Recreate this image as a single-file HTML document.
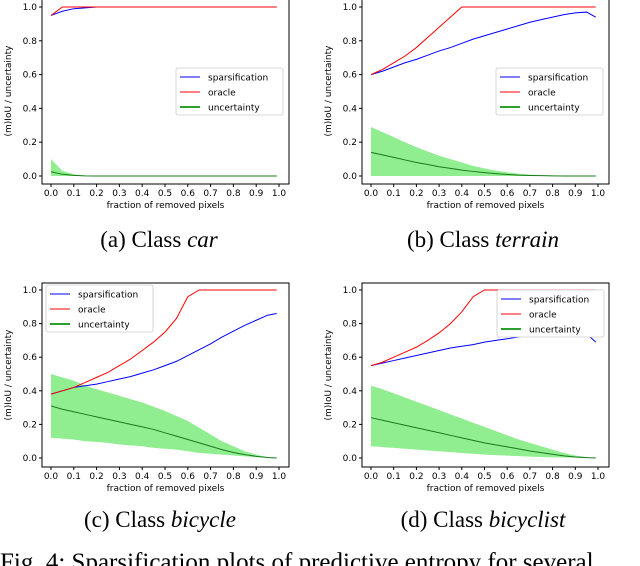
<!DOCTYPE html>
<html><head><meta charset="utf-8"><style>
body{margin:0;background:#fff;width:640px;height:566px;overflow:hidden;position:relative}
svg{position:absolute;left:0;top:0}
</style></head><body>
<svg id="fig" width="640" height="566"></svg>
<script>
const xs=[0,0.05,0.1,0.15,0.2,0.25,0.3,0.35,0.4,0.45,0.5,0.55,0.6,0.65,0.7,0.75,0.8,0.85,0.9,0.95,0.99];
const xTicks=["0.0","0.1","0.2","0.3","0.4","0.5","0.6","0.7","0.8","0.9","1.0"];
const yTicks=["0.0","0.2","0.4","0.6","0.8","1.0"];
const carSpars=[0.95,0.975,0.99,0.995,1,1,1,1,1,1,1,1,1,1,1,1,1,1,1,1,1];
const carOracle=[0.95,1,1,1,1,1,1,1,1,1,1,1,1,1,1,1,1,1,1,1,1];
const carUnc=[0.025,0.01,0.004,0.001,0,0,0,0,0,0,0,0,0,0,0,0,0,0,0,0,0];
const carUpper=[0.1,0.03,0.01,0.002,0,0,0,0,0,0,0,0,0,0,0,0,0,0,0,0,0];
const carLower=[0,0,0,0,0,0,0,0,0,0,0,0,0,0,0,0,0,0,0,0,0];
const terSpars=[0.6,0.62,0.645,0.67,0.69,0.715,0.74,0.76,0.785,0.81,0.83,0.85,0.87,0.89,0.91,0.925,0.94,0.955,0.965,0.97,0.94];
const terOracle=[0.6,0.63,0.67,0.71,0.76,0.82,0.88,0.94,1,1,1,1,1,1,1,1,1,1,1,1,1];
const terUnc=[0.14,0.125,0.11,0.095,0.08,0.068,0.055,0.045,0.035,0.027,0.02,0.014,0.009,0.005,0.003,0.002,0.001,0,0,0,0];
const terUpper=[0.29,0.26,0.23,0.2,0.17,0.145,0.12,0.1,0.08,0.06,0.045,0.032,0.022,0.014,0.008,0.005,0.003,0.002,0.001,0,0];
const terLower=[0,0,0,0,0,0,0,0,0,0,0,0,0,0,0,0,0,0,0,0,0];
const bicSpars=[0.38,0.40,0.42,0.43,0.44,0.455,0.47,0.485,0.505,0.525,0.55,0.575,0.61,0.645,0.68,0.72,0.755,0.79,0.82,0.85,0.86];
const bicOracle=[0.38,0.40,0.42,0.45,0.48,0.51,0.55,0.59,0.64,0.69,0.75,0.83,0.96,1,1,1,1,1,1,1,1];
const bicUnc=[0.31,0.29,0.275,0.26,0.245,0.23,0.215,0.2,0.185,0.17,0.15,0.13,0.11,0.09,0.07,0.05,0.033,0.02,0.01,0.003,0];
const bicUpper=[0.5,0.48,0.46,0.43,0.41,0.39,0.37,0.35,0.33,0.305,0.28,0.25,0.22,0.18,0.14,0.1,0.07,0.04,0.02,0.005,0];
const bicLower=[0.12,0.115,0.11,0.1,0.095,0.09,0.08,0.075,0.07,0.06,0.055,0.05,0.04,0.03,0.025,0.02,0.015,0.01,0.005,0.002,0];
const bclSpars=[0.55,0.565,0.58,0.595,0.61,0.625,0.64,0.655,0.665,0.675,0.69,0.70,0.71,0.72,0.73,0.74,0.75,0.755,0.755,0.74,0.69];
const bclOracle=[0.55,0.57,0.6,0.63,0.66,0.70,0.745,0.80,0.87,0.96,1,1,1,1,1,1,1,1,1,1,1];
const bclUnc=[0.24,0.225,0.21,0.195,0.18,0.165,0.15,0.135,0.12,0.105,0.09,0.078,0.066,0.054,0.042,0.032,0.022,0.013,0.006,0.002,0];
const bclUpper=[0.43,0.41,0.385,0.36,0.335,0.31,0.285,0.26,0.235,0.21,0.185,0.16,0.135,0.11,0.09,0.07,0.05,0.03,0.015,0.005,0];
const bclLower=[0.07,0.065,0.06,0.055,0.05,0.045,0.04,0.035,0.03,0.025,0.02,0.017,0.014,0.011,0.008,0.006,0.004,0.003,0.002,0.001,0];

const NS="http://www.w3.org/2000/svg";
const svgEl=document.getElementById('fig');
function mk(tag,attrs,parent,text){const e=document.createElementNS(NS,tag);for(const k in attrs)e.setAttribute(k,attrs[k]);if(text!==undefined)e.textContent=text;(parent||svgEl).appendChild(e);return e;}

function panel(p){
  const g=mk('g',{});
  
  
  const sx=v=>p.x0+(p.x1-p.x0)*v, sy=v=>p.y0+(p.y1-p.y0)*v;
  const band=mk('path',{d:'M'+xs.map((x,i)=>sx(x)+','+sy(p.upper[i])).join('L')+'L'+xs.map((x,i)=>sx(x)+','+sy(p.lower[i])).reverse().join('L')+'Z',fill:'#90ee90',stroke:'none'},g);
  
  
  const line=(arr,col,w,nm)=>{const l=mk('path',{d:'M'+xs.map((x,i)=>sx(x)+','+sy(arr[i])).join('L'),fill:'none',stroke:col,'stroke-width':w},g);
    
    };
  line(p.unc,'#1a7a1a',1,'uncertainty-line');
  line(p.spars,'#0000ff',1,'sparsification-line');
  line(p.oracle,'#ff0000',1,'oracle-line');
  const fr=mk('rect',{x:p.fl,y:p.ft,width:p.fr-p.fl,height:p.fb-p.ft,fill:'none',stroke:'#000','stroke-width':1},g);
  
  
  xTicks.forEach((t,i)=>{const x=sx(i/10);mk('line',{x1:x,x2:x,y1:p.fb,y2:p.fb+3,stroke:'#000'},g);
    const tx=mk('text',{x:x,y:p.fb+12,'font-size':9,'text-anchor':'middle','font-family':'DejaVu Sans, sans-serif'},g,t);
    
    });
  yTicks.forEach((t,i)=>{const y=sy(i/5);mk('line',{x1:p.fl-3,x2:p.fl,y1:y,y2:y,stroke:'#000'},g);
    const ty=mk('text',{x:p.fl-5,y:y+3,'font-size':9,'text-anchor':'end','font-family':'DejaVu Sans, sans-serif'},g,t);
    
    });
  const xl=mk('text',{x:(p.fl+p.fr)/2,y:p.fb+24,'font-size':9,'text-anchor':'middle','font-family':'DejaVu Sans, sans-serif'},g,'fraction of removed pixels');
  
  
  const yl=mk('text',{x:0,y:0,'font-size':9,'text-anchor':'middle','font-family':'DejaVu Sans, sans-serif',transform:`translate(${p.fl-31},${(p.ft+p.fb)/2}) rotate(-90)`},g,'(m)IoU / uncertainty');
  
  
  const lg=mk('g',{},g);
  
  
  mk('rect',{x:p.lx,y:p.ly,width:107,height:47,rx:2,fill:'#fff',stroke:'#ccc','stroke-width':0.8},lg);
  [['sparsification','#0000ff',1],['oracle','#ff0000',1],['uncertainty','#2ca02c',2]].forEach((e,i)=>{
    const yy=p.ly+9+i*15;
    mk('line',{x1:p.lx+4,x2:p.lx+24,y1:yy,y2:yy,stroke:e[1],'stroke-width':e[2]},lg);
    const t=mk('text',{x:p.lx+32,y:yy+3.5,'font-size':9,'font-family':'DejaVu Sans, sans-serif'},lg,e[0]);
    
    
  });
  const cap=mk('text',{x:p.cx,y:p.cy,'font-size':23,'text-anchor':'middle','font-family':'Liberation Serif, serif'},g);
  
  
  mk('tspan',{},cap,p.cap[0]);
  mk('tspan',{'font-style':'italic'},cap,p.cap[1]);
}
const topRow={y0:176,y1:7,ft:-2,fb:184}, botRow={y0:458,y1:290,ft:283,fb:467};
panel(Object.assign({name:'chart-car',x0:51,x1:279,fl:42,fr:289,lx:176,ly:68,spars:carSpars,oracle:carOracle,unc:carUnc,upper:carUpper,lower:carLower,cx:159,cy:247,cap:['(a) Class ','car']},topRow));
panel(Object.assign({name:'chart-terrain',x0:371,x1:598,fl:362,fr:609,lx:496,ly:68,spars:terSpars,oracle:terOracle,unc:terUnc,upper:terUpper,lower:terLower,cx:483,cy:247,cap:['(b) Class ','terrain']},topRow));
panel(Object.assign({name:'chart-bicycle',x0:51,x1:279,fl:42,fr:289,lx:46,ly:285,spars:bicSpars,oracle:bicOracle,unc:bicUnc,upper:bicUpper,lower:bicLower,cx:160,cy:527,cap:['(c) Class ','bicycle']},botRow));
panel(Object.assign({name:'chart-bicyclist',x0:371,x1:598,fl:362,fr:609,lx:497,ly:290,spars:bclSpars,oracle:bclOracle,unc:bclUnc,upper:bclUpper,lower:bclLower,cx:483,cy:527,cap:['(d) Class ','bicyclist']},botRow));
const fc=mk('text',{x:0,y:570,'font-size':25,'font-family':'Liberation Serif, serif'},svgEl,'Fig. 4: Sparsification plots of predictive entropy for several');


</script>
</body></html>
